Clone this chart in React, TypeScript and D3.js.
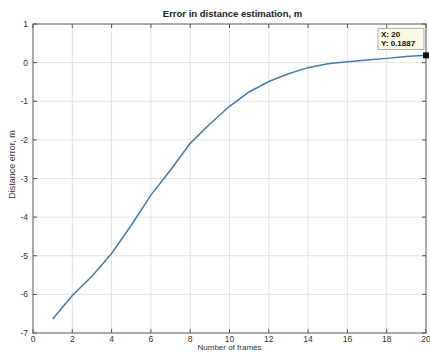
import React, { useEffect, useRef } from "react";
import * as d3 from "d3";

const frames = [1, 2, 3, 4, 5, 6, 7, 8, 9, 10, 11, 12, 13, 14, 15, 16, 17, 18, 19, 20];
const errors = [-6.64, -6.03, -5.53, -4.94, -4.21, -3.43, -2.78, -2.09, -1.59, -1.13, -0.76, -0.49, -0.29, -0.13, -0.03, 0.02, 0.07, 0.11, 0.16, 0.1887];
const xTicks = [0, 2, 4, 6, 8, 10, 12, 14, 16, 18, 20];
const yTicks = [1, 0, -1, -2, -3, -4, -5, -6, -7];
const titleText = "Error in distance estimation, m";
const xLabel = "Number of frames";
const yLabel = "Distance error, m";
const tipLines = ["X: 20", "Y: 0.1887"];

const W = 430, H = 352;
const L = 33, R = 426, T = 24, B = 333;
const FONT = "'Liberation Sans', Arial, Helvetica, sans-serif";

export default function App() {
  const ref = useRef<SVGSVGElement>(null);
  useEffect(() => {
    const svg = d3.select(ref.current);
    svg.selectAll("*").remove();
    const x = d3.scaleLinear().domain([0, 20]).range([L, R]);
    const y = d3.scaleLinear().domain([-7, 1]).range([B, T]);

    svg.append("rect").attr("width", W).attr("height", H).attr("fill", "#ffffff");

    const g = svg.append("g");
    g.selectAll(".gx").data(xTicks.slice(1, -1)).enter().append("line")
      .attr("x1", d => x(d)).attr("x2", d => x(d)).attr("y1", T).attr("y2", B)
      .attr("stroke", "#e3e3e3").attr("stroke-width", 1);
    g.selectAll(".gy").data(yTicks.slice(1, -1)).enter().append("line")
      .attr("y1", d => y(d)).attr("y2", d => y(d)).attr("x1", L).attr("x2", R)
      .attr("stroke", "#e3e3e3").attr("stroke-width", 1);

    const tl = 4;
    xTicks.forEach(d => {
      g.append("line").attr("x1", x(d)).attr("x2", x(d)).attr("y1", B).attr("y2", B - tl).attr("stroke", "#555");
      g.append("line").attr("x1", x(d)).attr("x2", x(d)).attr("y1", T).attr("y2", T + tl).attr("stroke", "#555");
    });
    yTicks.forEach(d => {
      g.append("line").attr("y1", y(d)).attr("y2", y(d)).attr("x1", L).attr("x2", L + tl).attr("stroke", "#555");
      g.append("line").attr("y1", y(d)).attr("y2", y(d)).attr("x1", R).attr("x2", R - tl).attr("stroke", "#555");
    });

    g.append("rect").attr("x", L).attr("y", T).attr("width", R - L).attr("height", B - T)
      .attr("fill", "none").attr("stroke", "#555").attr("stroke-width", 1);

    g.selectAll(".xl").data(xTicks).enter().append("text")
      .attr("x", d => x(d)).attr("y", B + 8.5).attr("text-anchor", "middle")
      .attr("font-family", FONT).attr("font-size", 8.5).attr("fill", "#333")
      .text(d => String(d));
    g.selectAll(".yl").data(yTicks).enter().append("text")
      .attr("x", L - 5).attr("y", d => y(d) + 3).attr("text-anchor", "end")
      .attr("font-family", FONT).attr("font-size", 8.5).attr("fill", "#333")
      .text(d => String(d));

    svg.append("text").attr("x", (L + R) / 2 + 3).attr("y", 17).attr("text-anchor", "middle")
      .attr("font-family", FONT).attr("font-size", 9.5).attr("font-weight", "bold").attr("fill", "#222")
      .text(titleText);
    svg.append("text").attr("x", (L + R) / 2).attr("y", 350.2).attr("text-anchor", "middle")
      .attr("font-family", FONT).attr("font-size", 8).attr("fill", "#333")
      .text(xLabel);
    svg.append("text").attr("transform", `translate(15,${(T + B) / 2 - 14}) rotate(-90)`)
      .attr("text-anchor", "middle")
      .attr("font-family", FONT).attr("font-size", 9).attr("fill", "#333")
      .text(yLabel);

    const data = frames.map((f, i) => [f, errors[i]] as [number, number]);
    const line = d3.line<[number, number]>().x(d => x(d[0])).y(d => y(d[1]));
    svg.append("path").attr("d", line(data) as string).attr("fill", "none")
      .attr("stroke", "#3f7bb6").attr("stroke-width", 1.5);

    const last = data[data.length - 1];
    const px = x(last[0]), py = y(last[1]);
    svg.append("rect").attr("x", px - 3).attr("y", py - 3).attr("width", 6).attr("height", 6).attr("fill", "#111");
    const bx = px - 48, by = py - 27;
    svg.append("rect").attr("x", bx).attr("y", by).attr("width", 46).attr("height", 21)
      .attr("fill", "#fdfbe4").attr("stroke", "#999").attr("stroke-width", 0.8);
    tipLines.forEach((t, i) => {
      svg.append("text").attr("x", bx + 3).attr("y", by + 9 + i * 8.5)
        .attr("font-family", FONT).attr("font-size", 8).attr("font-weight", "bold").attr("fill", "#111")
        .text(t);
    });
  }, []);
  return (
    <svg ref={ref} width={W} height={H} style={{ position: "absolute", left: 0, top: 0 }} />
  );
}
